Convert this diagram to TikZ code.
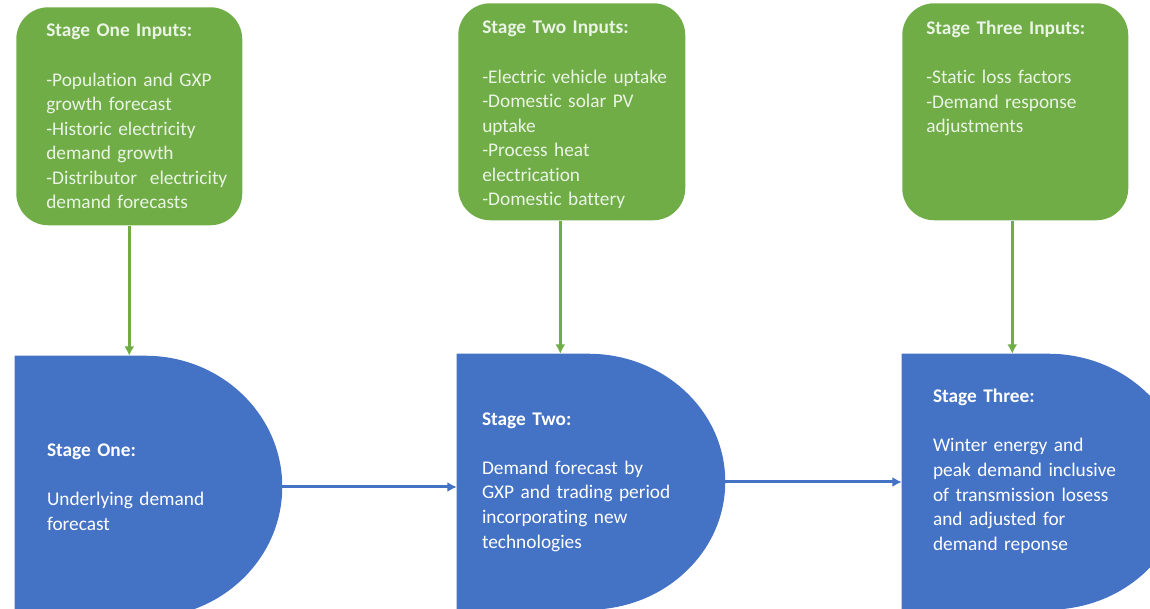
\documentclass[tikz,border=0pt]{standalone}
\usepackage{fontspec}
\setmainfont{Carlito}[Ligatures=NoCommon]
\usetikzlibrary{positioning,backgrounds,arrows.meta}

\definecolor{inputgreen}{HTML}{70AD47}
\definecolor{stageblue}{HTML}{4472C4}
\definecolor{inputtextcol}{HTML}{EAF4E4}

\tikzset{
  boxfont/.style={font=\fontsize{14.5pt}{18.4pt}\selectfont},
  inputbox/.style={rectangle, rounded corners=24pt, fill=inputgreen, anchor=north west, inner sep=0pt},
  inputtext/.style={boxfont, text=inputtextcol, align=left, anchor=north west, inner sep=0pt, text width=145pt},
  stagebox/.style={rectangle, boxfont, text=white, align=left, inner sep=0pt, minimum height=192pt},
  inputarrow/.style={draw=inputgreen, line width=2.6pt, -{Latex[length=7pt,width=7.5pt]}},
  stagearrow/.style={draw=stageblue, line width=2.25pt, -{Latex[length=7pt,width=7.5pt]}}
}

% the D outline behind a stage node
\newcommand\stagefill[2]{%
  \fill[stageblue] (#1.north west) -- ([xshift=-102.75pt]#1.north east)
    arc[start angle=90, end angle=-90, x radius=102.75pt, y radius=#2]
    -- (#1.south west) -- cycle;}

\begin{document}
\begin{tikzpicture}[x=0.75pt,y=0.75pt]
  \useasboundingbox (0,0) rectangle (1150,-609);

  % inputs
  \node[inputbox, minimum width=169.5pt, minimum height=163.5pt] (in1) at (16,-7) {};
  \node[inputbox, minimum width=170.25pt, minimum height=162.75pt] (in2) at (458,-3) {};
  \node[inputbox, minimum width=169.5pt, minimum height=162.75pt] (in3) at (902,-3) {};

  \node[inputtext, below right=12.75pt and 22.5pt of in1.north west] (in1t)
    {\textbf{Stage One Inputs:}\\[18.4pt]-Population and GXP\\growth forecast\\-Historic electricity\\demand growth\\-Distributor\ \ electricity\\demand forecasts};
  \node[inputtext, below right=13.5pt and 18pt of in2.north west] (in2t)
    {\textbf{Stage Two Inputs:}\\[18.4pt]-Electric vehicle uptake\\-Domestic solar PV\\uptake\\-Process heat\\electrication\\-Domestic battery};
  \node[inputtext, below right=13.5pt and 18pt of in3.north west] (in3t)
    {\textbf{Stage Three Inputs:}\\[18.4pt]-Static loss factors\\-Demand response\\adjustments};

  % stages
  \node[stagebox, minimum width=200.25pt, minimum height=196.5pt, text width=152.25pt] (s1) at (148.5,-487)
    {\textbf{Stage One:}\\[18.4pt]Underlying demand\\forecast};
  \node[stagebox, minimum width=201pt, text width=163.5pt] (s2) at (591,-482)
    {\textbf{Stage Two:}\\[18.4pt]Demand forecast by\\GXP and trading period\\incorporating new\\technologies};
  \node[stagebox, minimum width=212.25pt, text width=165.75pt] (s3) at (1043.5,-482)
    {\textbf{Stage Three:}\\[18.4pt]Winter energy and\\peak demand inclusive\\of transmission losess\\and adjusted for\\demand reponse\\[0pt]\mbox{}};

  \begin{scope}[on background layer]
    \stagefill{s1}{98.25pt}
    \stagefill{s2}{96pt}
    \stagefill{s3}{96pt}
  \end{scope}

  \draw[inputarrow] (in1.south) -- (in1.south |- s1.north);
  \draw[inputarrow] ([xshift=-8.6pt]in2.south) -- ([xshift=-8.6pt]in2.south |- s2.north);
  \draw[inputarrow] ([xshift=-2.25pt]in3.south) -- ([xshift=-2.25pt]in3.south |- s3.north);

  \draw[stagearrow] (s1.east) -- (s1.east -| s2.west);
  \draw[stagearrow] (s2.east) -- (s2.east -| s3.west);
\end{tikzpicture}
\end{document}
